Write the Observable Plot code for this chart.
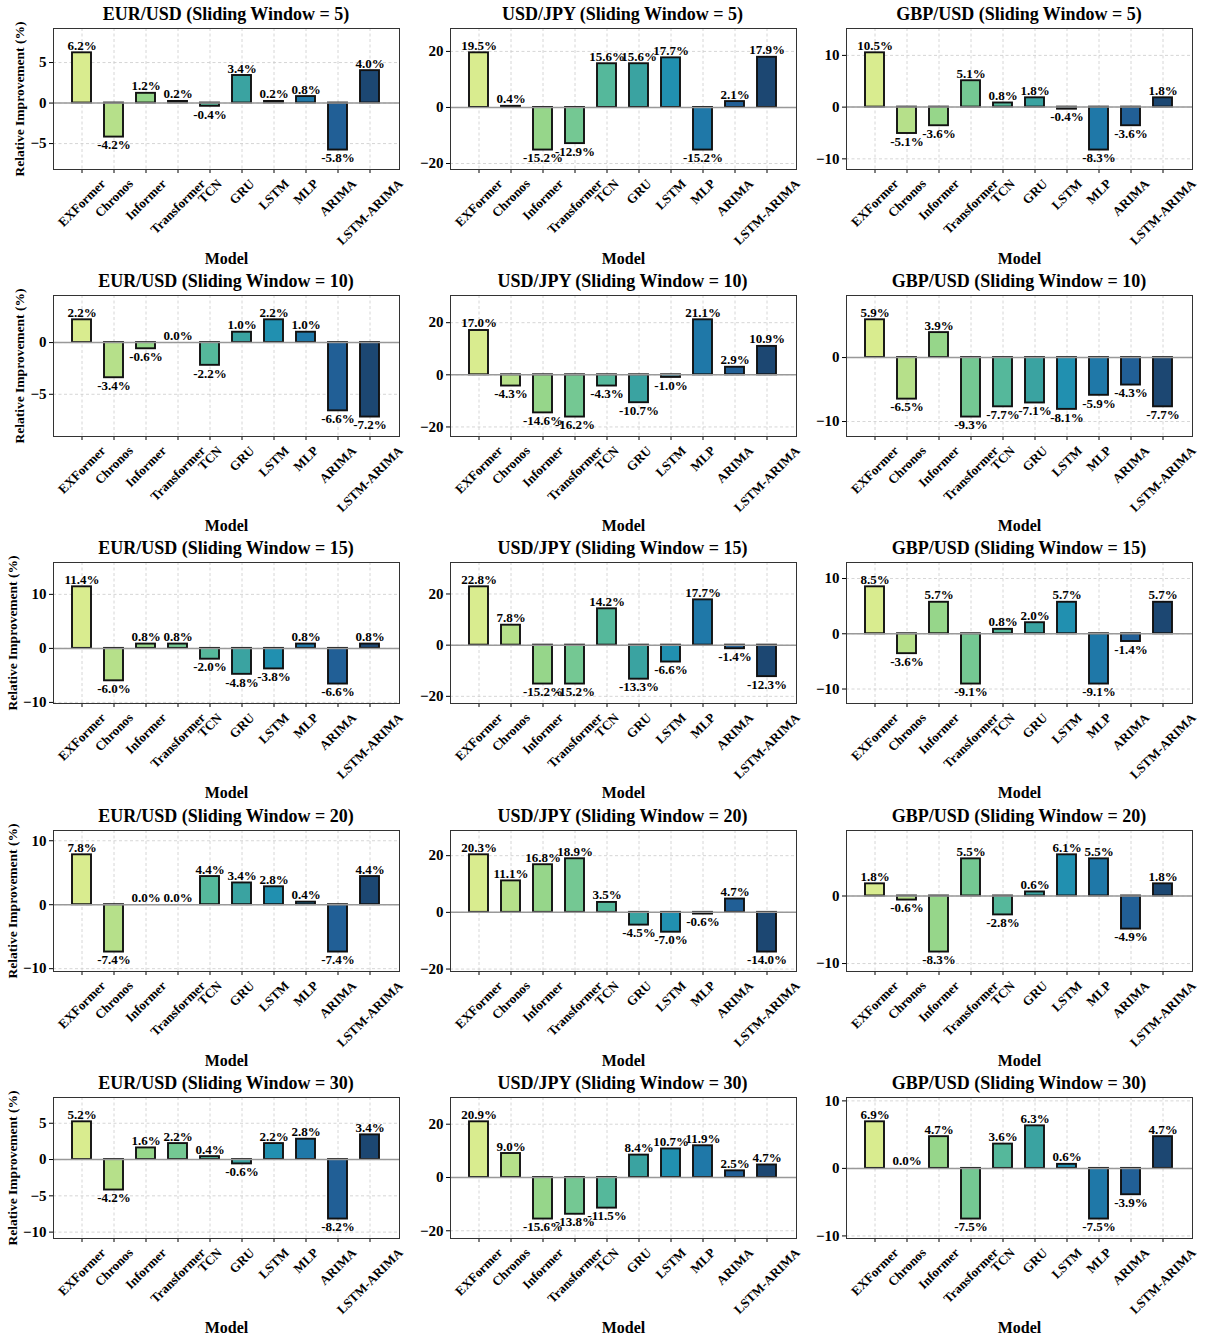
<!DOCTYPE html>
<html><head><meta charset="utf-8">
<script src="https://cdn.jsdelivr.net/npm/d3@7"></script>
<script src="https://cdn.jsdelivr.net/npm/@observablehq/plot@0.6"></script>
<style>
body{margin:0;background:#fff;}
#chart{position:relative;width:1210px;height:1344px;font-family:"Liberation Serif","Times New Roman",serif;font-weight:bold;color:#000;}
.panel{position:absolute;width:410px;height:267px;}
.title{position:absolute;left:53px;top:0;width:346px;height:28px;line-height:28px;text-align:center;font-size:18px;white-space:nowrap;}
.panel svg{position:absolute;left:0;top:24px;overflow:visible;}
</style></head><body><div id="chart"></div>
<script>
const models = ["EXFormer","Chronos","Informer","Transformer","TCN","GRU","LSTM","MLP","ARIMA","LSTM-ARIMA"];
const pairs = ["EUR/USD","USD/JPY","GBP/USD"];
const windows = [5,10,15,20,30];

const eurUsdW5  = [6.2,-4.2,1.2,0.2,-0.4,3.4,0.2,0.8,-5.8,4.0];
const usdJpyW5  = [19.5,0.4,-15.2,-12.9,15.6,15.6,17.7,-15.2,2.1,17.9];
const gbpUsdW5  = [10.5,-5.1,-3.6,5.1,0.8,1.8,-0.4,-8.3,-3.6,1.8];
const eurUsdW10 = [2.2,-3.4,-0.6,0.0,-2.2,1.0,2.2,1.0,-6.6,-7.2];
const usdJpyW10 = [17.0,-4.3,-14.6,-16.2,-4.3,-10.7,-1.0,21.1,2.9,10.9];
const gbpUsdW10 = [5.9,-6.5,3.9,-9.3,-7.7,-7.1,-8.1,-5.9,-4.3,-7.7];
const eurUsdW15 = [11.4,-6.0,0.8,0.8,-2.0,-4.8,-3.8,0.8,-6.6,0.8];
const usdJpyW15 = [22.8,7.8,-15.2,-15.2,14.2,-13.3,-6.6,17.7,-1.4,-12.3];
const gbpUsdW15 = [8.5,-3.6,5.7,-9.1,0.8,2.0,5.7,-9.1,-1.4,5.7];
const eurUsdW20 = [7.8,-7.4,0.0,0.0,4.4,3.4,2.8,0.4,-7.4,4.4];
const usdJpyW20 = [20.3,11.1,16.8,18.9,3.5,-4.5,-7.0,-0.6,4.7,-14.0];
const gbpUsdW20 = [1.8,-0.6,-8.3,5.5,-2.8,0.6,6.1,5.5,-4.9,1.8];
const eurUsdW30 = [5.2,-4.2,1.6,2.2,0.4,-0.6,2.2,2.8,-8.2,3.4];
const usdJpyW30 = [20.9,9.0,-15.6,-13.8,-11.5,8.4,10.7,11.9,2.5,4.7];
const gbpUsdW30 = [6.9,0.0,4.7,-7.5,3.6,6.3,0.6,-7.5,-3.9,4.7];

const valuesGrid = [
  [eurUsdW5, usdJpyW5, gbpUsdW5],
  [eurUsdW10, usdJpyW10, gbpUsdW10],
  [eurUsdW15, usdJpyW15, gbpUsdW15],
  [eurUsdW20, usdJpyW20, gbpUsdW20],
  [eurUsdW30, usdJpyW30, gbpUsdW30]
];

const yTicksW5  = [[-5,0,5],[-20,0,20],[-10,0,10]];
const yTicksW10 = [[-5,0],[-20,0,20],[-10,0]];
const yTicksW15 = [[-10,0,10],[-20,0,20],[-10,0,10]];
const yTicksW20 = [[-10,0,10],[-20,0,20],[-10,0]];
const yTicksW30 = [[-10,-5,0,5],[-20,0,20],[-10,0,10]];
const ticksGrid = [yTicksW5, yTicksW10, yTicksW15, yTicksW20, yTicksW30];

const palette = ["#d9ec8f","#b6e08a","#96d68a","#74c893","#55b89b","#3aa3a1","#2190b0","#1f78a8","#215f96","#1c4772"];

const chart = document.getElementById("chart");
const COL_STEP = 396.5, ROW_STEP = 267.2;
const ML = 53, FW = 346, MR = 10, MT = 4, FH = 141, MB = 98;
const XT_FONT = 13, YT_FONT = 15, YL_FONT = 13.5;
const fmt = d3.format("d");
const ctx = document.createElement("canvas").getContext("2d");
ctx.font = `bold ${YT_FONT}px "Liberation Serif"`;

windows.forEach((win, r) => {
  pairs.forEach((pair, c) => {
    const vals = valuesGrid[r][c];
    const ticks = ticksGrid[r][c];
    const data = models.map((m, i) => ({model: m, value: vals[i]}));
    const lo = d3.min(vals), hi = d3.max(vals), span = hi - lo;
    const domain = [lo - 0.2 * span, hi + 0.25 * span];

    const panel = document.createElement("div");
    panel.className = "panel";
    panel.style.left = (c * COL_STEP) + "px";
    panel.style.top = (r * ROW_STEP) + "px";
    const title = document.createElement("div");
    title.className = "title";
    title.textContent = `${pair} (Sliding Window = ${win})`;
    panel.appendChild(title);

    const marks = [
      Plot.gridY(ticks, {stroke: "#cccccc", strokeOpacity: 1, strokeDasharray: "3,2.5", strokeWidth: 0.8}),
      Plot.gridX({stroke: "#cccccc", strokeOpacity: 1, strokeDasharray: "3,2.5", strokeWidth: 0.8}),
      Plot.barY(data, {x: "model", y: "value", fill: "model", stroke: "#111", strokeWidth: 1.9}),
      Plot.ruleY([0], {stroke: "#999", strokeWidth: 1.5}),
      Plot.text(data.filter(d => d.value >= 0), {x: "model", y: "value", text: d => d.value.toFixed(1) + "%", lineAnchor: "bottom", dy: -3, fontSize: 13, fill: "#000"}),
      Plot.text(data.filter(d => d.value < 0), {x: "model", y: "value", text: d => d.value.toFixed(1) + "%", lineAnchor: "top", dy: 3, fontSize: 13, fill: "#000"}),
      Plot.axisY({ticks: ticks, tickSize: 4, tickPadding: 3, fontSize: YT_FONT, tickFormat: fmt, label: null}),
      Plot.axisX({tickSize: 4, tickFormat: () => "", label: null}),
      Plot.text(models, {x: d => d, text: d => d, frameAnchor: "bottom", rotate: -45, textAnchor: "middle", lineAnchor: "middle", fontSize: XT_FONT, fill: "#000"}),
      Plot.frame({stroke: "#333", strokeWidth: 1}),
      Plot.text(["Model"], {text: d => d, frameAnchor: "bottom", dy: 89, fontSize: 16, lineAnchor: "middle", fill: "#000"})
    ];
    if (c === 0) {
      // matplotlib-style: y label sits just left of the widest tick label
      const maxW = d3.max(ticks, t => ctx.measureText(fmt(t)).width);
      const off = 4 + 3 + maxW + 4 + YL_FONT / 2;
      marks.push(Plot.text(["Relative Improvement (%)"], {text: d => d, frameAnchor: "left", dx: -off, rotate: -90, textAnchor: "middle", fontSize: YL_FONT, lineAnchor: "middle", fill: "#000"}));
    }

    const svg = Plot.plot({
      width: ML + FW + MR,
      height: MT + FH + MB,
      marginLeft: ML, marginRight: MR, marginTop: MT, marginBottom: MB,
      x: {domain: models, paddingInner: 0.4, paddingOuter: 0.48},
      y: {domain: domain},
      color: {domain: models, range: palette},
      style: {fontFamily: "Liberation Serif, Times New Roman, serif", fontWeight: "bold", fontSize: "13px", overflow: "visible", background: "none", color: "#000"},
      marks
    });
    panel.appendChild(svg);
    chart.appendChild(panel);

    // place rotated tick labels like matplotlib (rotated bbox centered on tick, top below axis)
    d3.select(svg).selectAll("text").each(function() {
      const t = this.getAttribute("transform");
      if (!t || !t.includes("rotate(-45)")) return;
      const m = /translate\(\s*([-\d.e]+)[,\s]+([-\d.e]+)\s*\)/.exec(t);
      if (!m) return;
      const L = this.getComputedTextLength();
      const h = XT_FONT * 1.1;
      const y = +m[2] + 7 + (L + h) * Math.SQRT1_2 / 2;
      this.setAttribute("transform", `translate(${m[1]},${y}) rotate(-45)`);
    });
  });
});
</script>
</body></html>
